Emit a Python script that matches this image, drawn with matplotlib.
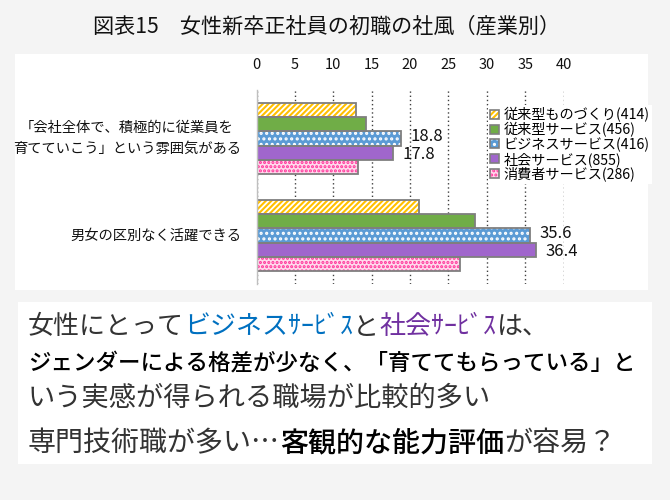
# 女性新卒正社員の初職の社風（産業別） - horizontal grouped bars with a text box below
import matplotlib
matplotlib.use("Agg")
import matplotlib.pyplot as plt
from matplotlib.patches import Patch, Rectangle
from matplotlib.transforms import blended_transform_factory
import numpy as np

plt.rcParams['font.family'] = ['Noto Sans CJK JP', 'DejaVu Sans']
plt.rcParams['hatch.linewidth'] = 1.5

# data
categories = ['「会社全体で、積極的に従業員を\n育てていこう」という雰囲気がある',
              '男女の区別なく活躍できる']
industries = ['従来型ものづくり(414)', '従来型サービス(456)', 'ビジネスサービス(416)',
              '社会サービス(855)', '消費者サービス(286)']
manufacturing = [13.0, 21.2]
trad_service = [14.2, 28.5]
business_service = [18.8, 35.6]
social_service = [17.8, 36.4]
consumer_service = [13.2, 26.5]
labelled = [2, 3]   # only business / social service carry value labels

series = [manufacturing, trad_service, business_service, social_service, consumer_service]
# (face colour, hatch colour, hatch)
styles = [('white', '#FFC000', '//////'),
          ('#70AD47', '#70AD47', None),
          ('#5B9BD5', 'white', '...'),
          ('#A066CC', '#A066CC', None),
          ('#FFD9EC', '#FF3399', '....')]
edge_gray = '#7F7F7F'

W, H = 670, 500
fig = plt.figure(figsize=(6.7, 5.0), dpi=100)
fig.patch.set_facecolor('#F4F4F4')

def px_rect(x0, y0, x1, y1):
    # white panel given in pixel coords from top-left
    return Rectangle((x0 / W, 1 - y1 / H), (x1 - x0) / W, (y1 - y0) / H,
                     transform=fig.transFigure, facecolor='white',
                     edgecolor='none', zorder=-1)

fig.add_artist(px_rect(15, 54, 648, 290))
fig.add_artist(px_rect(18, 302, 652, 464))

fig.text(327 / W, 1 - 27 / H, '図表15　女性新卒正社員の初職の社風（産業別）',
         ha='center', va='center', fontsize=15.2, color='#111111')

# chart
ax = fig.add_axes([256.7 / W, 1 - 284 / H, (563.5 - 256.7) / W, (284 - 90) / H])
ax.set_facecolor('none')
y = np.arange(len(categories))
bar_h = 0.146
for i, (vals, (face, hcol, hatch)) in enumerate(zip(series, styles)):
    pos = y + (i - 2) * bar_h
    ax.barh(pos, vals, height=bar_h, color=face, edgecolor=hcol, hatch=hatch,
            linewidth=0, zorder=2)
    ax.barh(pos, vals, height=bar_h, fill=False, edgecolor=edge_gray,
            linewidth=1.3, zorder=3)
    if i in labelled:
        nudge = 1.2 if i == 2 else -1.2
        for p, v in zip(pos, vals):
            ax.annotate(f'{v}', xy=(v, p), xytext=(7, nudge), textcoords='offset points',
                        ha='left', va='center', fontsize=12, color='#111111')

ax.set_xlim(0, 40)
ax.set_ylim(1.5, -0.5)
ax.set_xticks(np.arange(0, 41, 5))
ax.xaxis.tick_top()
ax.tick_params(axis='x', length=0, pad=13, labelsize=10.5, labelcolor='#111111')
ax.set_yticks([])
ax.grid(axis='x', linestyle=(0, (1, 2)), color='#404040', linewidth=1)
ax.set_axisbelow(True)
for s in ['top', 'right', 'bottom']:
    ax.spines[s].set_visible(False)
ax.spines['left'].set_color('#BFBFBF')
ax.spines['left'].set_linewidth(1)
ax.spines['left'].set_zorder(4)

# category labels to the left
trans = blended_transform_factory(fig.transFigure, ax.transData)
for yi, cat in zip(y, categories):
    ax.text(241 / W, yi, cat, transform=trans, ha='right', va='center',
            multialignment='center', fontsize=10.3, linespacing=1.7, color='#111111')

handles = []
for face, hcol, hatch in styles:
    handles.append((Patch(facecolor=face, edgecolor=hcol, hatch=hatch, linewidth=0),
                    Patch(fill=False, edgecolor=edge_gray, linewidth=1.2)))
leg = ax.legend(handles, industries, loc='upper left',
                bbox_to_anchor=(481 / W, 1 - 98 / H), bbox_transform=fig.transFigure,
                fontsize=10.2, frameon=True, facecolor='white', edgecolor='none',
                framealpha=1, fancybox=False, borderpad=0.15, labelspacing=0.0,
                handlelength=0.6, handleheight=0.6, handletextpad=0.35)
leg.set_zorder(5)

# text box below: each line is a run of coloured pieces
x0 = 28 / W
line1 = [('女性にとって', '#333333', 'normal'), ('ビジネスｻｰﾋﾞｽ', '#0070C0', 'normal'),
         ('と', '#333333', 'normal'), ('社会ｻｰﾋﾞｽ', '#7030A0', 'normal'),
         ('は、', '#333333', 'normal')]
line2 = [('ジェンダーによる格差が少なく、「育ててもらっている」と', '#000000', 'medium')]
line3 = [('いう実感が得られる職場が比較的多い', '#333333', 'normal')]
line4 = [('専門技術職が多い…', '#333333', 'normal'), ('客観的な能力評価', '#000000', 'medium'),
         ('が容易？', '#333333', 'normal')]

def draw_line(parts, ypix, size):
    prev = None
    for txt, col, wt in parts:
        if prev is None:
            prev = fig.text(x0, 1 - ypix / H, txt, ha='left', va='center',
                            fontsize=size, color=col, fontweight=wt)
        else:
            prev = ax.annotate(txt, xy=(1, 0.5), xycoords=prev, ha='left',
                               va='center', fontsize=size, color=col, fontweight=wt,
                               annotation_clip=False)

draw_line(line1, 327, 18.7)
draw_line(line2, 363, 16.2)
draw_line(line3, 398, 19.6)
draw_line(line4, 443, 20.2)

fig.savefig('out.png', dpi=100, facecolor=fig.get_facecolor())
